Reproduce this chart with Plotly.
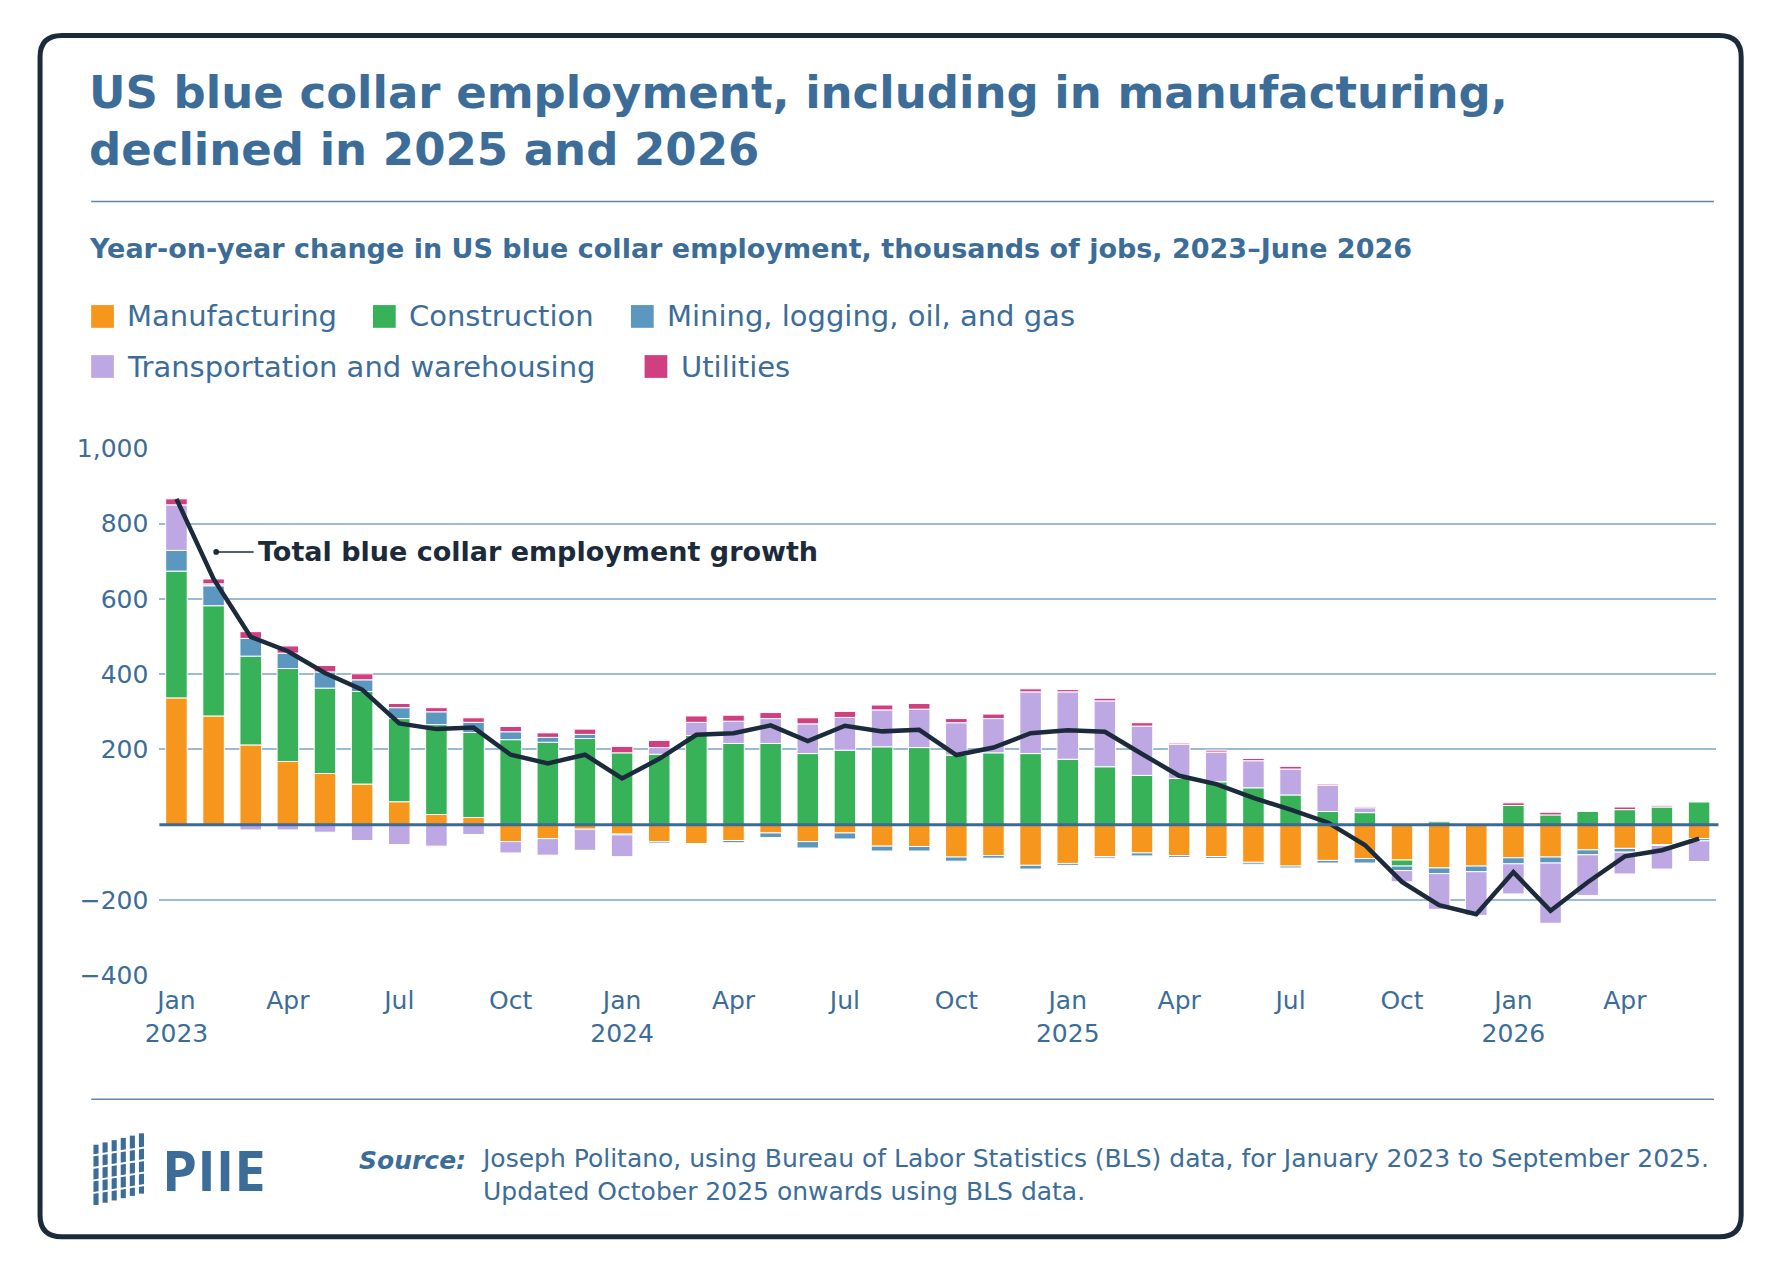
import plotly.graph_objects as go

W, H = 1783, 1278

months = list(range(42))  # Jan 2023 .. Jun 2026
manufacturing = [337, 289, 212, 168, 136, 108, 61, 27, 19, -45, -37, -12,
                 -25, -45, -50, -42, -22, -45, -22, -57, -58, -86, -82, -108,
                 -103, -85, -75, -82, -85, -100, -110, -95, -90, -94, -115, -110,
                 -88, -86, -67, -63, -53, -37]
construction = [337, 293, 236, 247, 227, 246, 221, 239, 226, 226, 219, 229,
                191, 187, 237, 216, 216, 189, 198, 207, 205, 185, 191, 189,
                174, 154, 131, 123, 114, 98, 79, 35, 32, -16, 8, 2,
                51, 26, 35, 40, 47, 61]
mining = [55, 53, 47, 41, 43, 31, 29, 34, 27, 21, 13, 11,
          -2, -4, 0, -6, -12, -17, -16, -13, -12, -11, -7, -10,
          -5, -4, -8, -5, -5, -5, -5, -7, -12, -12, -15, -15,
          -16, -16, -13, -10, -2, -6]
transport = [121, 5, -14, -14, -20, -42, -53, -57, -26, -30, -44, -56,
             -58, 18, 35, 59, 66, 79, 87, 98, 102, 86, 91, 164,
             179, 175, 131, 91, 79, 72, 69, 70, 13, -30, -95, -116,
             -80, -160, -108, -58, -63, -55]
utilities = [16, 13, 18, 19, 17, 16, 11, 11, 12, 14, 12, 14,
             17, 19, 17, 16, 16, 16, 16, 13, 15, 11, 12, 8,
             6, 7, 9, 3, 5, 6, 7, 3, 3, 0, 3, 1,
             7, 7, 0, 7, 3, 0]
total = [sum(v) for v in zip(manufacturing, construction, mining, transport, utilities)]

tick_vals = [0, 3, 6, 9, 12, 15, 18, 21, 24, 27, 30, 33, 36, 39]
tick_text = ["Jan<br>2023", "Apr", "Jul", "Oct", "Jan<br>2024", "Apr", "Jul", "Oct",
             "Jan<br>2025", "Apr", "Jul", "Oct", "Jan<br>2026", "Apr"]

series = [("Manufacturing", manufacturing, "#F7961D"),
          ("Construction", construction, "#38B258"),
          ("Mining, logging, oil, and gas", mining, "#5B97BF"),
          ("Transportation and warehousing", transport, "#BEA8E3"),
          ("Utilities", utilities, "#D03F80")]

BLUE = "#3C6D99"
NAVY = "#1C2B3C"
FONT = "DejaVu Sans"


# positions measured on the screenshot -> paper fractions
def X(d):
    return (d - 20) / 0.8726 / W


def Y(d):
    return 1 - (d - 20.2) / 0.859 / H


fig = go.Figure()
for name, vals, col in series:
    fig.add_trace(go.Bar(x=months, y=vals, name=name, marker_color=col,
                         marker_line_color="white", marker_line_width=1, width=0.58))
fig.add_trace(go.Scatter(x=months, y=total, mode="lines", line=dict(color=NAVY, width=4.5),
                         name="Total"))

fig.update_layout(
    width=W, height=H, margin=dict(l=0, r=0, t=0, b=0),
    paper_bgcolor="white", plot_bgcolor="white",
    barmode="relative", showlegend=False,
    font=dict(family=FONT, color=BLUE),
    xaxis=dict(domain=[X(140), X(1510)], range=[-0.46, 41.46], tickvals=tick_vals,
               ticktext=tick_text, tickfont=dict(size=25, color=BLUE), showgrid=False,
               zeroline=False, ticks="", ticklabelstandoff=8),
    yaxis=dict(domain=[Y(858), Y(395)], range=[-400, 1000],
               tickvals=[-400, -200, 200, 400, 600, 800, 1000],
               ticktext=["\u2212400", "\u2212200", "200", "400", "600", "800", "1,000"],
               tickfont=dict(size=25, color=BLUE), gridcolor="#9DBAD4", gridwidth=1.5,
               zeroline=False, ticklabelstandoff=10),
)

# zero line
fig.add_shape(type="line", xref="paper", yref="y", x0=X(140), x1=X(1512), y0=0, y1=0,
              line=dict(color="#3A6A96", width=3))

# rounded frame
fx0, fx1, fy0, fy1 = X(35), X(1532), Y(32), Y(1088)
rx, ry = 22 / W, 22 / H
frame = (f"M {fx0 + rx},{fy0} L {fx1 - rx},{fy0} Q {fx1},{fy0} {fx1},{fy0 - ry} "
         f"L {fx1},{fy1 + ry} Q {fx1},{fy1} {fx1 - rx},{fy1} L {fx0 + rx},{fy1} "
         f"Q {fx0},{fy1} {fx0},{fy1 + ry} L {fx0},{fy0 - ry} Q {fx0},{fy0} {fx0 + rx},{fy0} Z")
fig.add_shape(type="path", xref="paper", yref="paper", path=frame,
              line=dict(color=NAVY, width=5), layer="above")

# title and rules
for txt, yy in (("US blue collar employment, including in manufacturing,", 82),
                ("declined in 2025 and 2026", 132)):
    fig.add_annotation(xref="paper", yref="paper", x=X(76), y=Y(yy), xanchor="left", yanchor="middle",
                       showarrow=False, text=f"<b>{txt}</b>",
                       font=dict(size=45, color=BLUE, family=FONT))
for yy in (178, 967):
    fig.add_shape(type="line", xref="paper", yref="paper", x0=X(80), x1=X(1508), y0=Y(yy), y1=Y(yy),
                  line=dict(color="#5F86AC", width=1.5))
fig.add_annotation(xref="paper", yref="paper", x=X(76), y=Y(219), xanchor="left", yanchor="middle",
                   showarrow=False,
                   text="<b>Year-on-year change in US blue collar employment, thousands of jobs, 2023\u2013June 2026</b>",
                   font=dict(size=27, color=BLUE, family=FONT))

# legend
leg_pos = [(80, 279), (328, 279), (555, 279), (80, 323), (567, 323)]
for (name, _, col), (lx, ly) in zip(series, leg_pos):
    fig.add_shape(type="rect", xref="paper", yref="paper", x0=X(lx), x1=X(lx + 20),
                  y0=Y(ly + 10), y1=Y(ly - 10), fillcolor=col, line_width=0)
    fig.add_annotation(xref="paper", yref="paper", x=X(lx + 30), y=Y(ly), xanchor="left",
                       yanchor="middle", showarrow=False, text=name,
                       font=dict(size=29, color=BLUE, family=FONT))

# line label
fig.add_shape(type="line", xref="paper", yref="paper", x0=X(190), x1=X(223), y0=Y(486), y1=Y(486),
              line=dict(color=NAVY, width=1.5))
fig.add_shape(type="circle", xref="paper", yref="paper", x0=X(187.5), x1=X(192.5),
              y0=Y(488.5), y1=Y(483.5), fillcolor=NAVY, line_width=0)
fig.add_annotation(xref="paper", yref="paper", x=X(225), y=Y(486), xanchor="left", yanchor="middle",
                   showarrow=False, text="<b>Total blue collar employment growth</b>",
                   font=dict(size=27, color=NAVY, family=FONT))

# PIIE logo
for i in range(6):
    xl = 82 + i * 8
    fig.add_shape(type="rect", xref="paper", yref="paper", x0=X(xl), x1=X(xl + 4.5),
                  y0=Y(1060 - i * 2), y1=Y(997 + (5 - i) * 2), fillcolor=BLUE, line_width=0)
for j in range(4):
    yl = 1013 + j * 11
    fig.add_shape(type="line", xref="paper", yref="paper", x0=X(78), x1=X(130),
                  y0=Y(yl + 4), y1=Y(yl - 4), line=dict(color="white", width=2))
fig.add_annotation(xref="paper", yref="paper", x=X(141), y=Y(1028), xanchor="left", yanchor="middle",
                   showarrow=False, text="<b>PIIE</b>", font=dict(size=56, color=BLUE, family="Open Sans"))

# source
fig.add_annotation(xref="paper", yref="paper", x=X(314), y=Y(1021), xanchor="left", yanchor="middle",
                   showarrow=False, text="<b><i>Source:</i></b>", font=dict(size=25, color=BLUE, family=FONT))
fig.add_annotation(xref="paper", yref="paper", x=X(421), y=Y(1034), xanchor="left", yanchor="middle",
                   align="left", showarrow=False,
                   text="Joseph Politano, using Bureau of Labor Statistics (BLS) data, for January 2023 to September 2025.<br>"
                        "Updated October 2025 onwards using BLS data.",
                   font=dict(size=25, color=BLUE, family=FONT))

fig.write_html("out.html")
